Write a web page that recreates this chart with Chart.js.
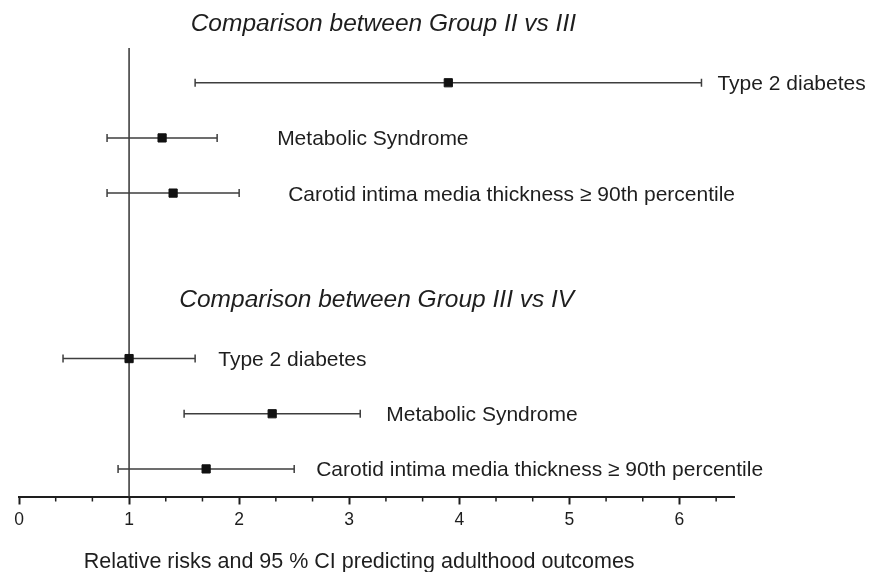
<!DOCTYPE html>
<html><head><meta charset="utf-8">
<script src="https://cdn.jsdelivr.net/npm/chart.js@4.4.0/dist/chart.umd.min.js"></script>
<style>html,body{margin:0;padding:0;background:#fff}</style>
</head><body>
<canvas id="c" width="869" height="572"></canvas>
<script>
// ---- data ----
const groups = ['Comparison between Group II vs III', 'Comparison between Group III vs IV'];
const outcomes = ['Type 2 diabetes', 'Metabolic Syndrome', 'Carotid intima media thickness \u2265 90th percentile'];
const rrIIvsIII   = [3.9, 1.3, 1.4];
const lowIIvsIII  = [1.6, 0.8, 0.8];
const highIIvsIII = [6.2, 1.8, 2.0];
const rrIIIvsIV   = [1.0, 2.3, 1.7];
const lowIIIvsIV  = [0.4, 1.5, 0.9];
const highIIIvsIV = [1.6, 3.1, 2.5];
const xTickValues = [0, 1, 2, 3, 4, 5, 6];
const nullRR = 1;
const xTitle = 'Relative risks and 95 % CI predicting adulthood outcomes';

// ---- build rows ----
const groupData = [
  {rr: rrIIvsIII, lo: lowIIvsIII, hi: highIIvsIII},
  {rr: rrIIIvsIV, lo: lowIIIvsIV, hi: highIIIvsIV}
];
const rows = [];
groupData.forEach((g, gi) => {
  outcomes.forEach((name, i) => {
    rows.push({x: g.rr[i], y: gi * 5 + i + 1, lo: g.lo[i], hi: g.hi[i], label: name});
  });
});

const FONT = '"Liberation Sans", Arial, Helvetica, sans-serif';
const INK = '#1e1e1e';
const LABEL_SIZE = 21;

const forestPlugin = {
  id: 'forest',
  beforeDatasetsDraw(chart, args, opts) {
    const {ctx, chartArea} = chart;
    const xs = chart.scales.x, ys = chart.scales.y;
    ctx.save();
    // reference line at RR = 1
    ctx.strokeStyle = '#333';
    ctx.lineWidth = 1.5;
    const x1 = xs.getPixelForValue(nullRR);
    ctx.beginPath();
    ctx.moveTo(x1, chartArea.top);
    ctx.lineTo(x1, chartArea.bottom);
    ctx.stroke();
    // confidence intervals
    ctx.strokeStyle = '#3e3e3e';
    ctx.lineWidth = 1.5;
    rows.forEach(r => {
      const y = ys.getPixelForValue(r.y);
      const a = xs.getPixelForValue(r.lo), b = xs.getPixelForValue(r.hi);
      ctx.beginPath();
      ctx.moveTo(a, y); ctx.lineTo(b, y);
      ctx.moveTo(a, y - 4); ctx.lineTo(a, y + 4);
      ctx.moveTo(b, y - 4); ctx.lineTo(b, y + 4);
      ctx.stroke();
    });
    ctx.restore();
  },
  afterDraw(chart, args, opts) {
    const {ctx, chartArea} = chart;
    const xs = chart.scales.x, ys = chart.scales.y;
    ctx.save();
    // minor ticks at thirds
    ctx.strokeStyle = INK;
    ctx.lineWidth = 1.5;
    for (let k = 1; k / 3 <= xs.max; k++) {
      if (k % 3 === 0) continue;
      const px = xs.getPixelForValue(k / 3);
      ctx.beginPath();
      ctx.moveTo(px, chartArea.bottom);
      ctx.lineTo(px, chartArea.bottom + 5);
      ctx.stroke();
    }
    // outcome labels
    ctx.fillStyle = INK;
    ctx.textAlign = 'left';
    ctx.textBaseline = 'alphabetic';
    ctx.font = LABEL_SIZE + 'px ' + FONT;
    rows.forEach((r, i) => {
      const y = ys.getPixelForValue(r.y) + 0.716 * LABEL_SIZE / 2;
      ctx.fillText(r.label, xs.getPixelForValue(opts.labelAt[i]), y);
    });
    // group headings
    ctx.font = 'italic 24.5px ' + FONT;
    ctx.textAlign = 'center';
    groups.forEach((g, gi) => {
      const y = ys.getPixelForValue(gi * 5 - 0.1) + 0.716 * 24.5 / 2;
      ctx.fillText(g, xs.getPixelForValue(opts.headingAt[gi]), y);
    });
    // axis title
    ctx.font = '21.5px ' + FONT;
    ctx.fillText(xTitle, xs.getPixelForValue(opts.titleAt), chartArea.bottom + 71);
    ctx.restore();
  }
};

new Chart(document.getElementById('c'), {
  type: 'scatter',
  data: {
    datasets: [{
      data: rows.map(r => ({x: r.x, y: r.y})),
      pointStyle: 'rect',
      pointRadius: 5.8,
      pointHoverRadius: 5.8,
      borderWidth: 1,
      backgroundColor: '#111',
      borderColor: '#111'
    }]
  },
  options: {
    responsive: false,
    devicePixelRatio: 1,
    animation: false,
    events: [],
    layout: {padding: {left: 19, right: 134.5, top: 48, bottom: 0}},
    plugins: {
      legend: {display: false},
      tooltip: {enabled: false},
      forest: {
        labelAt: [6.345, 2.345, 2.445, 1.81, 3.336, 2.7],
        headingAt: [3.31, 3.25],
        titleAt: 3.09
      }
    },
    scales: {
      x: {
        type: 'linear',
        min: 0, max: 6.5,
        afterFit: s => { s.height = 75.5; },
        afterBuildTicks: s => { s.ticks = xTickValues.map(v => ({value: v})); },
        border: {display: true, color: INK, width: 2},
        grid: {display: true, drawOnChartArea: false, drawTicks: true, tickLength: 8, tickColor: INK, tickWidth: 2},
        ticks: {
          font: {family: FONT, size: 17.5},
          color: INK,
          padding: 5,
          maxRotation: 0,
          autoSkip: false,
          callback: v => String(v)
        }
      },
      y: {
        type: 'linear',
        display: false,
        reverse: true,
        min: 0.37, max: 8.5
      }
    }
  },
  plugins: [forestPlugin]
});
</script>
</body></html>
